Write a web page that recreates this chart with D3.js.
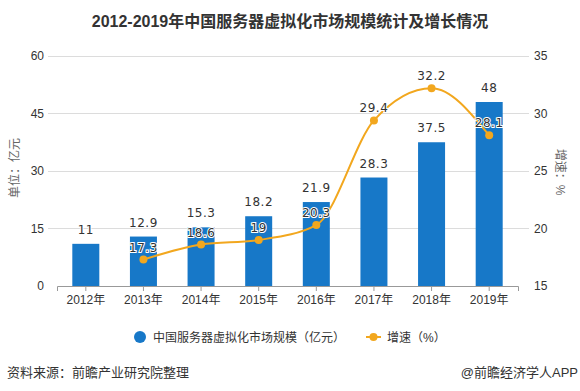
<!DOCTYPE html>
<html><head><meta charset="utf-8">
<script src="https://cdn.jsdelivr.net/npm/d3@7"></script>
<style>body{margin:0;background:#fff}svg{display:block}</style>
</head><body>
<svg id="c" width="580" height="391"></svg>
<script>
const years = ["2012年","2013年","2014年","2015年","2016年","2017年","2018年","2019年"];
const marketSize = [11, 12.9, 15.3, 18.2, 21.9, 28.3, 37.5, 48];
const growthYears = ["2013年","2014年","2015年","2016年","2017年","2018年","2019年"];
const growthRate = [17.3, 18.6, 19, 20.3, 29.4, 32.2, 28.1];
const leftTicks = [0, 15, 30, 45, 60];
const rightTicks = [15, 20, 25, 30, 35];

const svg = d3.select("#c");
const FONT = "'Liberation Sans','Noto Sans CJK SC',sans-serif";
const NUMFONT = "'DejaVu Sans','Noto Sans CJK SC',sans-serif";
const barColor = "#1778c8", lineColor = "#f2a71e";

const x = d3.scaleBand().domain(years).range([57, 518]).paddingInner(0).paddingOuter(0);
const yL = d3.scaleLinear().domain([0, 60]).range([286, 56]);
const yR = d3.scaleLinear().domain([15, 35]).range([286, 56]);

// title
svg.append("text").attr("x", 290).attr("y", 27).attr("text-anchor", "middle")
  .attr("font-family", FONT).attr("font-weight", "bold").attr("font-size", 16).attr("fill", "#333")
  .text("2012-2019年中国服务器虚拟化市场规模统计及增长情况");

// grid
svg.append("g").selectAll("line").data(leftTicks.slice(1)).join("line")
  .attr("x1", 48).attr("x2", 529).attr("y1", d => yL(d)).attr("y2", d => yL(d))
  .attr("stroke", "#dcdcdc").attr("stroke-width", 1).attr("shape-rendering", "crispEdges");

// left axis
const gl = svg.append("g").attr("transform", "translate(48,0)")
  .call(d3.axisLeft(yL).tickValues(leftTicks).tickSize(0).tickPadding(4));
gl.select(".domain").remove();
gl.selectAll("text").attr("font-family", FONT).attr("font-size", 12).attr("fill", "#333");

// right axis
const gr = svg.append("g").attr("transform", "translate(529,0)")
  .call(d3.axisRight(yR).tickValues(rightTicks).tickSize(0).tickPadding(5));
gr.select(".domain").remove();
gr.selectAll("text").attr("font-family", FONT).attr("font-size", 12).attr("fill", "#333");

// axis titles
svg.append("text").attr("transform", "translate(19,168) rotate(-90)").attr("text-anchor", "middle")
  .attr("font-family", FONT).attr("font-size", 12).attr("fill", "#666").text("单位：亿元");
svg.append("text").attr("transform", "translate(556,172) rotate(90)").attr("text-anchor", "middle")
  .attr("font-family", FONT).attr("font-size", 12).attr("fill", "#666").text("增速：%");

// bars
const bw = 27;
svg.append("g").selectAll("rect").data(marketSize).join("rect")
  .attr("x", (d, i) => x(years[i]) + x.bandwidth() / 2 - bw / 2)
  .attr("width", bw)
  .attr("y", d => yL(d)).attr("height", d => yL(0) - yL(d))
  .attr("fill", barColor);

// x axis
const gx = svg.append("g").attr("transform", "translate(0,286)")
  .call(d3.axisBottom(x).tickSize(5).tickPadding(4));
gx.select(".domain").attr("stroke", "#999");
gx.selectAll(".tick line").attr("stroke", "#999");
gx.selectAll("text").attr("font-family", FONT).attr("font-size", 12).attr("fill", "#333");

// bar labels
svg.append("g").selectAll("text").data(marketSize).join("text")
  .attr("x", (d, i) => x(years[i]) + x.bandwidth() / 2)
  .attr("y", d => yL(d) - 10)
  .attr("text-anchor", "middle").attr("font-family", NUMFONT).attr("font-size", 12)
  .attr("fill", "#333").attr("stroke", "#fff").attr("stroke-width", 2).attr("paint-order", "stroke")
  .attr("letter-spacing", 0.5)
  .text(d => d);

// line
const cx = (i) => x(growthYears[i]) + x.bandwidth() / 2;
const line = d3.line().x((d, i) => cx(i)).y(d => yR(d)).curve(d3.curveMonotoneX);
svg.append("path").datum(growthRate).attr("d", line)
  .attr("fill", "none").attr("stroke", lineColor).attr("stroke-width", 2);
svg.append("g").selectAll("circle").data(growthRate).join("circle")
  .attr("cx", (d, i) => cx(i)).attr("cy", d => yR(d)).attr("r", 4).attr("fill", lineColor);
svg.append("g").selectAll("text").data(growthRate).join("text")
  .attr("x", (d, i) => cx(i)).attr("y", d => yR(d) - 8)
  .attr("text-anchor", "middle").attr("font-family", NUMFONT).attr("font-size", 12)
  .attr("fill", "#333").attr("stroke", "#fff").attr("stroke-width", 2).attr("paint-order", "stroke")
  .attr("letter-spacing", 0.5)
  .text(d => d);

// legend
const lg = svg.append("g");
lg.append("circle").attr("cx", 140).attr("cy", 337).attr("r", 6).attr("fill", barColor);
lg.append("text").attr("x", 153).attr("y", 341.5).attr("font-family", FONT).attr("font-size", 12)
  .attr("fill", "#333").text("中国服务器虚拟化市场规模（亿元）");
lg.append("line").attr("x1", 366).attr("x2", 381).attr("y1", 337).attr("y2", 337)
  .attr("stroke", lineColor).attr("stroke-width", 2);
lg.append("circle").attr("cx", 373.5).attr("cy", 337).attr("r", 4).attr("fill", lineColor);
lg.append("text").attr("x", 387).attr("y", 341.5).attr("font-family", FONT).attr("font-size", 12)
  .attr("fill", "#333").text("增速（%）");

// footer
svg.append("text").attr("x", 7).attr("y", 377).attr("font-family", FONT).attr("font-size", 13)
  .attr("fill", "#333").text("资料来源：前瞻产业研究院整理");
svg.append("text").attr("x", 578).attr("y", 377).attr("text-anchor", "end").attr("font-family", FONT)
  .attr("font-size", 13).attr("fill", "#333").text("@前瞻经济学人APP");
</script>
</body></html>
